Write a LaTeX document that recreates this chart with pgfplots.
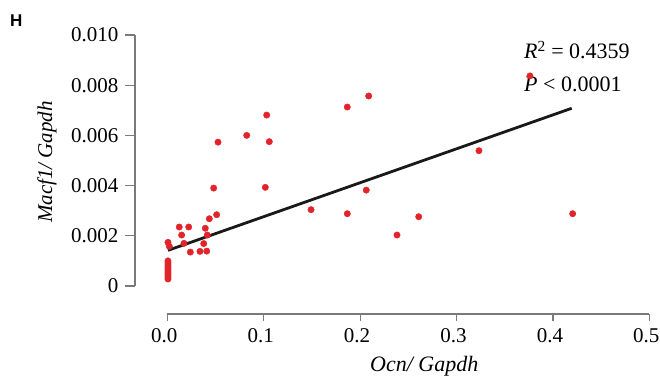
\documentclass[border=0pt]{standalone}
\usepackage{fontspec}
\setmainfont{Liberation Serif}
\newfontfamily\hfont{Liberation Sans}
\usepackage{pgfplots}
\pgfplotsset{compat=1.18}
\definecolor{dotred}{HTML}{E2232A}
\definecolor{axgray}{HTML}{7A7A7A}
\begin{document}
\begin{tikzpicture}
\useasboundingbox (0pt,0pt) rectangle (660pt,379pt);
\node[anchor=base west,font=\hfont\bfseries\fontsize{17}{20}\selectfont,inner sep=0] at (10pt,352pt) {H};
% main data axis with y axis only
\begin{axis}[
  at={(135pt,93pt)}, anchor=south west,
  scale only axis, width=514.3pt, height=251pt,
  xmin=-0.0335, xmax=0.5, ymin=0, ymax=0.010,
  scaled y ticks=false,
  axis x line=none, axis y line*=left,
  axis line style={axgray, line width=1.2pt, -},
  ytick={0,0.002,0.004,0.006,0.008,0.010},
  yticklabels={0,0.002,0.004,0.006,0.008,0.010},
  tick align=outside, major tick length=10pt,
  tick style={axgray, line width=1.2pt},
  yticklabel style={font=\fontsize{21}{24}\selectfont, black, xshift=-3pt},
  ylabel={\textit{Macf1/ Gapdh}},
  every axis y label/.style={at={(axis description cs:-0.171,0.494)}, rotate=90, anchor=center, font=\fontsize{21}{24}\selectfont},
  clip=false,
]
\addplot[only marks, mark=*, mark size=3.2pt, color=dotred, mark options={draw=dotred, fill=dotred}] coordinates {
(0.1031,0.00681) (0.1867,0.00713) (0.0824,0.00600) (0.0526,0.00573)
(0.1058,0.00575) (0.0481,0.00390) (0.1017,0.00393) (0.1491,0.00304)
(0.1867,0.00288) (0.0124,0.00235) (0.0222,0.00235) (0.0436,0.00268)
(0.0512,0.00284) (0.0394,0.00230) (0.0149,0.00203) (0.0415,0.00203)
(0.0173,0.00170) (0.0378,0.00169) (0.0239,0.00135) (0.0339,0.00138)
(0.0409,0.00139) (0.0007,0.00174) (0.0021,0.00158)
(0.0007,0.00100) (0.0007,0.00092) (0.0007,0.00084) (0.0007,0.00076)
(0.0007,0.00068) (0.0007,0.00060) (0.0007,0.00052) (0.0007,0.00044)
(0.0007,0.00036) (0.0007,0.00028)
(0.3762,0.00837) (0.2089,0.00757) (0.3233,0.00539) (0.2064,0.00382)
(0.2608,0.00276) (0.2383,0.00203) (0.4205,0.00288)
};
\addplot[black!90, line width=2.8pt] coordinates {(0.0007,0.00142) (0.4195,0.00708)};
\node[anchor=base west, font=\fontsize{22}{24}\selectfont, inner sep=0] at (axis cs:0.370,0.00905) {\textit{R}\textsuperscript{2} = 0.4359};
\node[anchor=base west, font=\fontsize{22}{24}\selectfont, inner sep=0] at (axis cs:0.370,0.00775) {\textit{P} \textless{} 0.0001};
\end{axis}
% detached x axis
\begin{axis}[
  at={(167.3pt,65pt)}, anchor=south west,
  scale only axis, width=482pt, height=20pt,
  xmin=0, xmax=0.5, ymin=0, ymax=1,
  axis x line*=bottom, axis y line=none,
  axis line style={axgray, line width=1.2pt, -},
  xtick={0,0.1,0.2,0.3,0.4,0.5},
  xticklabels={0.0,0.1,0.2,0.3,0.4,0.5},
  tick align=outside, major tick length=7pt,
  tick style={axgray, line width=1.2pt},
  xticklabel style={font=\fontsize{21}{24}\selectfont, black, yshift=-4pt, xshift=-3pt},
  xlabel={\textit{Ocn/ Gapdh}},
  every axis x label/.style={at={(axis description cs:0.533,0)}, anchor=base, yshift=-58pt, font=\fontsize{22}{24}\selectfont},
]
\addplot[draw=none] coordinates {(0,0) (0.5,1)};
\end{axis}
\end{tikzpicture}
\end{document}
